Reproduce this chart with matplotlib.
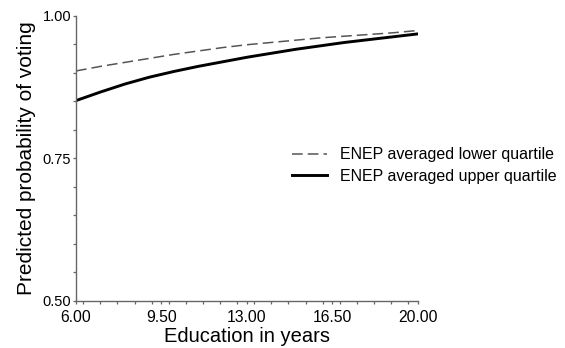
import numpy as np
import matplotlib.pyplot as plt
from matplotlib.ticker import MultipleLocator, FixedLocator

plt.rcParams['font.family'] = ['Liberation Sans', 'DejaVu Sans']

# values
education = [6, 7, 8, 9, 10, 11, 12, 13, 14, 15, 16, 17, 18, 19, 20]
enep_lower = [0.903, 0.911, 0.918, 0.925, 0.932, 0.938, 0.944, 0.949,
              0.953, 0.957, 0.961, 0.964, 0.967, 0.970, 0.974]
enep_upper = [0.851, 0.866, 0.880, 0.892, 0.902, 0.911, 0.919, 0.927,
              0.934, 0.941, 0.947, 0.953, 0.958, 0.963, 0.968]
x_ticks = [6.0, 9.5, 13.0, 16.5, 20.0]
y_ticks = [0.50, 0.75, 1.00]

fig = plt.figure(figsize=(5.65, 3.48), dpi=100)
ax = fig.add_axes([0.1345, 0.136, 0.605, 0.819])

ax.plot(education, enep_lower, color="#555555", linewidth=1.1,
        dashes=(7, 3.3), label="ENEP averaged lower quartile")
ax.plot(education, enep_upper, color="black", linewidth=2.1,
        label="ENEP averaged upper quartile")

ax.set_xlim(6, 20)
ax.set_ylim(0.5, 1.0)
ax.xaxis.set_major_locator(FixedLocator(x_ticks))
ax.xaxis.set_minor_locator(MultipleLocator(0.7))
ax.yaxis.set_major_locator(FixedLocator(y_ticks))
ax.yaxis.set_minor_locator(MultipleLocator(0.05))
ax.set_xticklabels(["{:.2f}".format(v) for v in x_ticks])
ax.set_yticklabels(["{:.2f}".format(v) for v in y_ticks])

for side in ["top", "right"]:
    ax.spines[side].set_visible(False)
for side in ["left", "bottom"]:
    ax.spines[side].set_color("#666666")
    ax.spines[side].set_linewidth(1.0)

ax.tick_params(which="both", direction="out", length=2.5, width=0.9,
               color="#666666")
ax.tick_params(axis="x", labelsize=11.3, pad=4.5)
ax.tick_params(axis="y", labelsize=10.5, pad=1)
ax.set_xlabel("Education in years", fontsize=14.5, labelpad=1.5)
ax.set_ylabel("Predicted probability of voting", fontsize=15, labelpad=5)

ax.legend(loc="upper left", bbox_to_anchor=(0.517, 0.577),
          bbox_transform=fig.transFigure, frameon=False, fontsize=11.5,
          handlelength=2.2, handletextpad=0.8, labelspacing=0.4,
          borderpad=0, borderaxespad=0)

fig.savefig("out.png", dpi=100)
